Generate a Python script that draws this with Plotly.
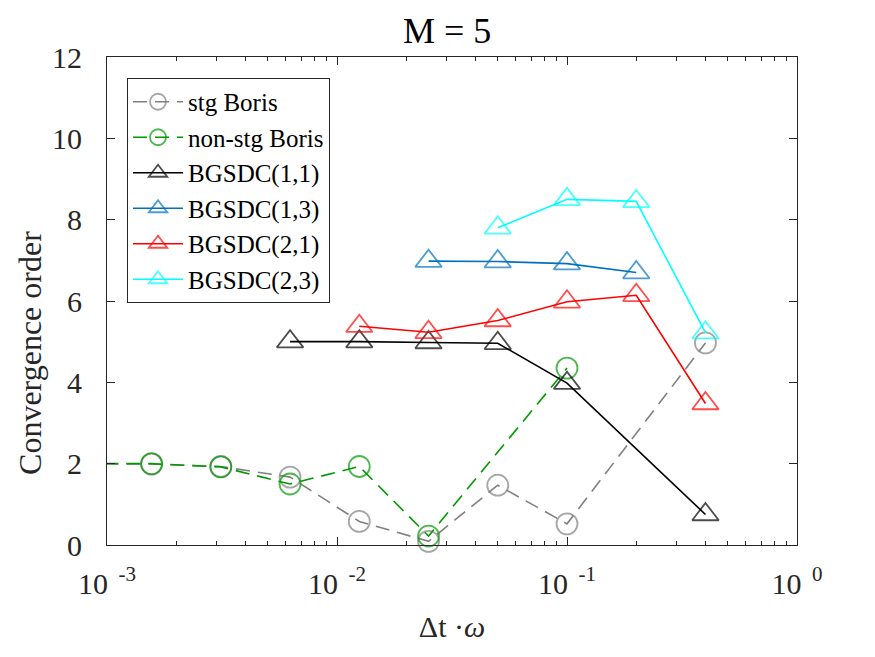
import plotly.graph_objects as go

# ---- data ----
stg_x = [0.00078125, 0.0015625, 0.003125, 0.00625, 0.0125, 0.025, 0.05, 0.1, 0.4]
stg_y = [2.0, 1.99, 1.93, 1.67, 0.58, 0.09, 1.47, 0.52, 4.97]

nonstg_x = [0.00078125, 0.0015625, 0.003125, 0.00625, 0.0125, 0.025, 0.1]
nonstg_y = [2.0, 2.0, 1.92, 1.50, 1.93, 0.22, 4.35]

b11_x = [0.00625, 0.0125, 0.025, 0.05, 0.1, 0.4]
b11_y = [5.0, 5.0, 4.98, 4.96, 3.98, 0.75]

b13_x = [0.025, 0.05, 0.1, 0.2]
b13_y = [6.98, 6.97, 6.92, 6.70]

b21_x = [0.0125, 0.025, 0.05, 0.1, 0.2, 0.4]
b21_y = [5.38, 5.23, 5.52, 5.98, 6.14, 3.48]

b23_x = [0.05, 0.1, 0.2, 0.4]
b23_y = [7.80, 8.50, 8.45, 5.22]

NB = "\u00a0"
x_tickvals = [1e-3, 1e-2, 1e-1, 1e0]
x_ticktext = ["10<sup>" + NB + NB + e + "</sup>" for e in ("-3", "-2", "-1", "0")]
x_minor = [m * 10 ** e for e in (-3, -2, -1) for m in range(2, 10)]

XMIN, XMAX = 1e-3, 1e0

FONT = "Liberation Serif"
AXC = "#262626"

fig = go.Figure()


def add(x, y, name, color, symbol, size, dash):
    sizes = [size if XMIN <= v <= XMAX else 0 for v in x]
    fig.add_trace(go.Scatter(
        x=x, y=y, name=name, mode="lines+markers",
        line=dict(color=color, width=1.6, dash=dash),
        marker=dict(symbol=symbol, size=sizes, color=color,
                    line=dict(color=color, width=1.8)),
        cliponaxis=False,
    ))


add(stg_x, stg_y, "stg Boris", "#808080", "circle-open", 21, "14px,8px")
add(nonstg_x, nonstg_y, "non-stg Boris", "#009900", "circle-open", 21, "14px,8px")
add(b11_x, b11_y, "BGSDC(1,1)", "#000000", "triangle-up-open", 23, "solid")
add(b13_x, b13_y, "BGSDC(1,3)", "#0072BD", "triangle-up-open", 23, "solid")
add(b21_x, b21_y, "BGSDC(2,1)", "#FF0000", "triangle-up-open", 23, "solid")
add(b23_x, b23_y, "BGSDC(2,3)", "#00FFFF", "triangle-up-open", 23, "solid")

fig.update_layout(
    width=875, height=657,
    margin=dict(l=107, r=78, t=57, b=112),
    paper_bgcolor="white", plot_bgcolor="white",
    font=dict(family=FONT, color=AXC, size=28),
    title=dict(text="M = 5", x=0.511, xanchor="center", y=0.953, yanchor="middle",
               yref="container", font=dict(family=FONT, size=36, color="black")),
    showlegend=True,
    legend=dict(x=0.029, y=0.957, xanchor="left", yanchor="top",
                bgcolor="white", bordercolor=AXC, borderwidth=1,
                font=dict(family=FONT, size=25, color="black"),
                tracegroupgap=0, itemwidth=50),
    annotations=[dict(
        text="Convergence order", textangle=-90,
        xref="paper", yref="paper", x=-0.112, y=0.393,
        xanchor="center", yanchor="middle", showarrow=False,
        font=dict(family=FONT, size=32, color=AXC),
    )],
)

fig.update_xaxes(
    type="log", range=[-3, 0],
    tickmode="array", tickvals=x_tickvals, ticktext=x_ticktext,
    ticks="inside", ticklen=8, tickwidth=1, tickcolor=AXC,
    minor=dict(tickmode="array", tickvals=x_minor, ticks="inside", ticklen=4,
               tickwidth=1, tickcolor=AXC, showgrid=False),
    showline=True, linecolor=AXC, linewidth=1, mirror="ticks",
    showgrid=False, zeroline=False,
    tickfont=dict(family=FONT, size=30, color=AXC),
    ticklabelstandoff=12,
    title=dict(text="Δt ·<i>ω</i>", font=dict(family=FONT, size=30, color=AXC), standoff=16),
)

fig.update_yaxes(
    range=[0, 12], tickmode="linear", tick0=0, dtick=2,
    ticks="inside", ticklen=8, tickwidth=1, tickcolor=AXC,
    showline=True, linecolor=AXC, linewidth=1, mirror="ticks",
    showgrid=False, zeroline=False,
    tickfont=dict(family=FONT, size=30, color=AXC),
    ticklabelstandoff=18,
)

fig.write_html("out.html")
